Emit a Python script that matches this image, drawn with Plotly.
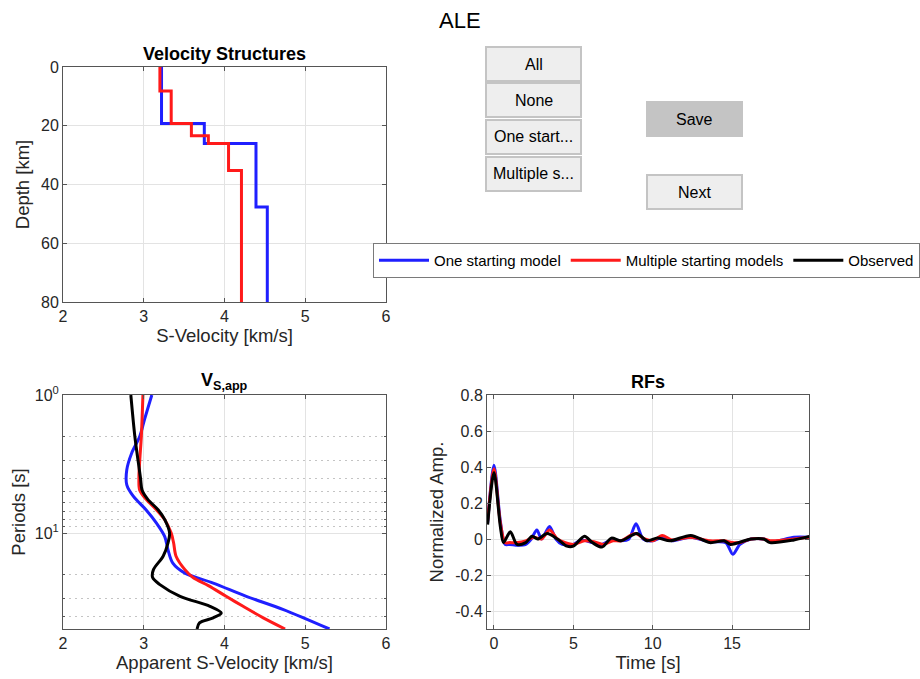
import numpy as np
import plotly.graph_objects as go

# ---------------- data ----------------
# Velocity structure (layer tops in km, layer velocities km/s)
blue_depth = [0, 19.2, 26, 47.7, 80]
blue_vel = [3.22, 3.75, 4.39, 4.53]
red_depth = [0, 8.2, 19.2, 23.4, 26, 35.2, 80]
red_vel = [3.20, 3.34, 3.59, 3.80, 4.05, 4.21]

# Apparent S-velocity vs period
blk_T = [1, 2, 3, 4, 4.9, 5.7, 6.8, 8, 10, 11.8, 14.7, 18.4, 21, 23.6, 28.7, 33.9, 37.9, 41.1, 44.7, 49.5]
blk_v = [2.84, 2.89, 2.93, 2.96, 2.98, 3.05, 3.18, 3.26, 3.32, 3.30, 3.24, 3.12, 3.11, 3.20, 3.45, 3.82, 3.96, 3.86, 3.69, 3.66]
red_T = [1, 2, 3, 4, 4.9, 5.7, 6.8, 8, 10, 11.8, 14.7, 18.4, 21, 24, 28.7, 33.9, 41.1, 49.5]
red_v = [2.99, 2.97, 2.95, 2.94, 2.95, 3.03, 3.16, 3.26, 3.34, 3.37, 3.40, 3.51, 3.61, 3.80, 4.02, 4.23, 4.48, 4.75]
blu_T = [1, 1.5, 2, 2.64, 3.48, 4.47, 5.4, 6.8, 8.5, 10.6, 13.2, 16.5, 19.5, 23, 28.7, 35.8, 49.5]
blu_v = [3.10, 3.01, 2.95, 2.85, 2.79, 2.79, 2.87, 3.03, 3.16, 3.26, 3.30, 3.36, 3.51, 3.86, 4.27, 4.73, 5.30]

# Receiver functions
rf_blk_t = [-0.4, 0, 0.4, 0.6, 1.03, 1.45, 2.0, 2.4, 2.75, 3.35, 4.0, 4.6, 5.0, 5.7, 6.2, 6.8, 7.4, 8.0, 9.0,
            9.65, 10.3, 11.1, 12.4, 13.6, 14.5, 14.9, 16.2, 17.0, 17.4, 18.9, 19.9]
rf_blk_a = [0.08, 0.37, 0.07, -0.02, 0.04, -0.03, -0.02, 0.015, 0.0, 0.03, 0.0, -0.04, -0.04, 0.015, -0.02, -0.045,
            0.005, -0.01, 0.03, -0.01, 0.005, -0.01, 0.02, -0.02, -0.01, -0.03, 0.0, 0.0, -0.02, -0.005, 0.015]
rf_blu_t = [-0.4, 0, 0.4, 0.7, 1.0, 1.5, 2.0, 2.35, 2.7, 3.0, 3.5, 3.9, 4.3, 5.0, 5.5, 6.2, 6.8, 7.4, 8.0, 8.5,
            8.95, 9.4, 10.0, 10.6, 11.2, 12.4, 13.6, 14.6, 15.05, 15.5, 16.2, 17.0, 17.5, 18.9, 19.9]
rf_blu_a = [0.09, 0.41, 0.10, -0.03, -0.03, -0.035, -0.03, 0.0, 0.05, 0.0, 0.07, 0.0, -0.03, -0.03, -0.005, -0.02,
            -0.03, -0.005, -0.01, 0.0, 0.085, 0.0, -0.01, 0.01, -0.01, 0.01, -0.015, -0.02, -0.085, -0.03, 0.0, 0.0,
            -0.015, 0.01, 0.01]
rf_red_t = [-0.4, 0, 0.4, 0.7, 1.0, 1.5, 2.0, 2.5, 3.0, 3.5, 4.0, 4.5, 5.0, 5.7, 6.3, 6.9, 7.5, 8.0, 8.9, 9.5,
            10.0, 10.6, 11.2, 12.4, 13.6, 14.5, 15.0, 15.5, 16.2, 17.0, 17.5, 18.9, 19.9]
rf_red_a = [0.1, 0.39, 0.09, -0.02, -0.02, -0.02, -0.01, 0.01, 0.0, 0.05, 0.0, -0.02, -0.03, -0.01, -0.015, -0.03,
            -0.01, -0.01, 0.03, 0.0, -0.01, 0.02, -0.005, 0.01, -0.01, -0.01, -0.02, -0.02, 0.0, 0.0, -0.01, 0.0, 0.01]

legend_names = ["One starting model", "Multiple starting models", "Observed"]
buttons_left = ["All", "None", "One start...", "Multiple s..."]
buttons_right = ["Save", "Next"]

BLUE = "#1f1fff"
RED = "#ff1a1a"
BLACK = "#000000"

W, H = 920, 679
def px(x): return x / W
def py(y): return 1 - y / H

fig = go.Figure()

def step_xy(depth, vel):
    return vel + [vel[-1]], depth[:-1] + [depth[-1]]

bx, by = step_xy(blue_depth, blue_vel)
rx, ry = step_xy(red_depth, red_vel)
fig.add_trace(go.Scatter(x=bx, y=by, mode="lines", line=dict(color=BLUE, width=3, shape="vh"),
                         name=legend_names[0], xaxis="x", yaxis="y", showlegend=True))
fig.add_trace(go.Scatter(x=rx, y=ry, mode="lines", line=dict(color=RED, width=3, shape="vh"),
                         name=legend_names[1], xaxis="x", yaxis="y", showlegend=True))
fig.add_trace(go.Scatter(x=[None], y=[None], mode="lines", line=dict(color=BLACK, width=3),
                         name=legend_names[2], xaxis="x", yaxis="y", showlegend=True))

fig.add_trace(go.Scatter(x=blu_v, y=blu_T, mode="lines", line=dict(color=BLUE, width=3, shape="spline", smoothing=0.9),
                         xaxis="x2", yaxis="y2", showlegend=False))
fig.add_trace(go.Scatter(x=red_v, y=red_T, mode="lines", line=dict(color=RED, width=3, shape="spline", smoothing=0.9),
                         xaxis="x2", yaxis="y2", showlegend=False))
fig.add_trace(go.Scatter(x=blk_v, y=blk_T, mode="lines", line=dict(color=BLACK, width=3, shape="spline", smoothing=0.9),
                         xaxis="x2", yaxis="y2", showlegend=False))

fig.add_trace(go.Scatter(x=rf_blu_t, y=rf_blu_a, mode="lines", line=dict(color=BLUE, width=3, shape="spline", smoothing=0.8),
                         xaxis="x3", yaxis="y3", showlegend=False))
fig.add_trace(go.Scatter(x=rf_red_t, y=rf_red_a, mode="lines", line=dict(color=RED, width=3, shape="spline", smoothing=0.8),
                         xaxis="x3", yaxis="y3", showlegend=False))
fig.add_trace(go.Scatter(x=rf_blk_t, y=rf_blk_a, mode="lines", line=dict(color=BLACK, width=3, shape="spline", smoothing=0.8),
                         xaxis="x3", yaxis="y3", showlegend=False))

FONT = "Liberation Sans, Arial, sans-serif"
AX = "#555555"
TXT = "#262626"
GRID = "#e3e3e3"

common = dict(showline=True, linecolor=AX, linewidth=1, mirror="ticks", ticks="inside", ticklen=4,
              tickcolor=AX, tickfont=dict(size=16, color=TXT, family=FONT), gridcolor=GRID,
              showgrid=True, zeroline=False, automargin=False,
              title_font=dict(size=18.5, color=TXT, family=FONT))

fig.update_layout(
    width=W, height=H, margin=dict(l=0, r=0, t=0, b=0, pad=0, autoexpand=False),
    paper_bgcolor="white", plot_bgcolor="white",
    font=dict(family=FONT, color=TXT),
    showlegend=True,
    xaxis=dict(domain=[px(63), px(386)], anchor="y", range=[2, 6], tickvals=[2, 3, 4, 5, 6],
               title=dict(text="S-Velocity [km/s]", standoff=0), **common),
    yaxis=dict(domain=[py(302), py(67)], anchor="x", range=[80, 0], tickvals=[0, 20, 40, 60, 80],
               title=dict(text="Depth [km]", standoff=6), **common),
    xaxis2=dict(domain=[px(63), px(386)], anchor="y2", range=[2, 6], tickvals=[2, 3, 4, 5, 6],
                title=dict(text="Apparent S-Velocity [km/s]", standoff=0), **common),
    yaxis2=dict(domain=[py(629), py(395)], anchor="x2", type="log", range=[np.log10(49.5), 0],
                tickvals=[1, 10], ticktext=["10<sup>0</sup>", "10<sup>1</sup>"],
                minor=dict(tickvals=[2, 3, 4, 5, 6, 7, 8, 9, 20, 30, 40], showgrid=True, griddash="2px,4px",
                           gridcolor="#c4c4c4", gridwidth=1, ticks="inside", ticklen=2, tickcolor=AX),
                title=dict(text="Periods [s]", standoff=4), **common),
    xaxis3=dict(domain=[px(487), px(809)], anchor="y3", range=[-0.44, 19.85], tickvals=[0, 5, 10, 15],
                title=dict(text="Time [s]", standoff=0), **common),
    yaxis3=dict(domain=[py(629), py(395)], anchor="x3", range=[-0.5, 0.8],
                tickvals=[-0.4, -0.2, 0, 0.2, 0.4, 0.6, 0.8], ticktext=["-0.4", "-0.2", "0", "0.2", "0.4", "0.6", "0.8"],
                title=dict(text="Normalized Amp.", standoff=6), **common),
    legend=dict(orientation="h", x=px(373), y=py(243), xanchor="left", yanchor="top",
                bordercolor="#7a7a7a", borderwidth=1, bgcolor="white",
                font=dict(size=15, color=BLACK, family=FONT), itemwidth=50,
                tracegroupgap=0),
)

ann = [
    dict(text="ALE", x=px(460), y=py(20), font=dict(size=22, color=BLACK)),
    dict(text="<b>Velocity Structures</b>", x=px(224), y=py(54), font=dict(size=18, color=BLACK)),
    dict(text="<b>V<sub>S,app</sub></b>", x=px(224), y=py(381), font=dict(size=18, color=BLACK)),
    dict(text="<b>RFs</b>", x=px(648), y=py(382), font=dict(size=18, color=BLACK)),
]
shapes = []
ys_left = [(47, 81), (83, 117), (120, 154), (157, 191)]
for label, (y0, y1) in zip(buttons_left, ys_left):
    shapes.append(dict(type="rect", xref="paper", yref="paper", x0=px(486), x1=px(581), y0=py(y1), y1=py(y0),
                       line=dict(color="#c4c4c4", width=2), fillcolor="#eeeeee", layer="below"))
    ann.append(dict(text=label, x=px(533.5), y=py((y0 + y1) / 2), font=dict(size=16, color=BLACK)))
ys_right = [(102, 136), (175, 209)]
fills = ["#c4c4c4", "#eeeeee"]
for label, (y0, y1), fc in zip(buttons_right, ys_right, fills):
    shapes.append(dict(type="rect", xref="paper", yref="paper", x0=px(647), x1=px(742), y0=py(y1), y1=py(y0),
                       line=dict(color="#c4c4c4", width=2), fillcolor=fc, layer="below"))
    ann.append(dict(text=label, x=px(694.5), y=py((y0 + y1) / 2), font=dict(size=16, color=BLACK)))

for a in ann:
    a.update(xref="paper", yref="paper", showarrow=False, xanchor="center", yanchor="middle")
    a["font"]["family"] = FONT

fig.update_layout(annotations=ann, shapes=shapes)
fig.write_html("out.html")
